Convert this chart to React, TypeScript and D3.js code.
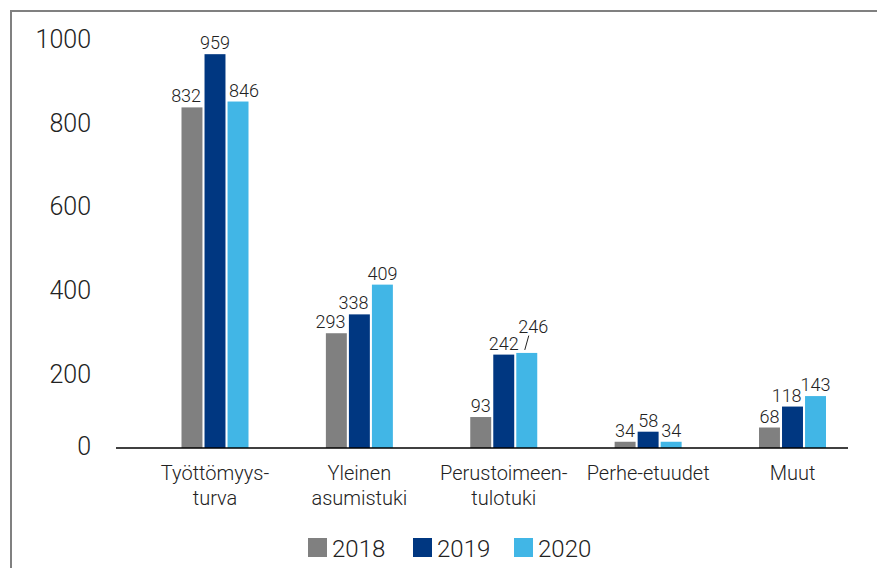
import React from "react";
import * as d3 from "d3";

const categories = ["Työttömyysturva", "Yleinen asumistuki", "Perustoimeentulotuki", "Perhe-etuudet", "Muut"];
const categoryLines = [["Työttömyys-", "turva"], ["Yleinen", "asumistuki"], ["Perustoimeen-", "tulotuki"], ["Perhe-etuudet"], ["Muut"]];
const seriesNames = ["2018", "2019", "2020"];
const colors = ["#808080", "#003781", "#41b6e6"];
const values2018 = [832, 293, 93, 34, 68];
const values2019 = [959, 338, 242, 58, 118];
const values2020 = [846, 409, 246, 34, 143];
const yTicks = [0, 200, 400, 600, 800, 1000];

const W = 877, H = 568;
const FONT = "Roboto, 'Open Sans', sans-serif";
const TEXT = "#222222";

export default function App() {
  const seriesValues = [values2018, values2019, values2020];
  const y = d3.scaleLinear().domain([0, 1000]).range([456, 37]);
  const axisY = 448;
  const x0 = d3.scalePoint<string>().domain(categories).range([215, 792.5]);
  const x1 = d3.scaleBand<string>().domain(seriesNames).range([-33.5, 33.5]).paddingInner(0.09);
  const bw = x1.bandwidth();

  const labelFs = 18;
  const labelH = 14;
  const charW = 0.55 * labelFs;

  const bars: React.ReactNode[] = [];
  const texts: React.ReactNode[] = [];
  categories.forEach((c, ci) => {
    const cx = x0(c)!;
    let prev: { lx: number; ly: number; w: number } | null = null;
    seriesNames.forEach((s, si) => {
      const v = seriesValues[si][ci];
      const bx = cx + x1(s)!;
      const top = y(v);
      bars.push(<rect key={`b${ci}-${si}`} x={bx} y={top} width={bw} height={axisY - top} fill={colors[si]} />);
      const str = String(v);
      const w = str.length * charW;
      let ly = top - 5;
      let lx = bx + bw / 2;
      const over = Math.max(0, (w - bw) / 2);
      if (over > 0) {
        const leftTop = si > 0 ? y(seriesValues[si - 1][ci]) : Infinity;
        const rightTop = si < seriesNames.length - 1 ? y(seriesValues[si + 1][ci]) : Infinity;
        if (rightTop < ly) lx -= over + 1.5;
        else if (leftTop < ly) lx += over + 1.5;
      }
      let leader = false;
      if (prev && Math.abs(ly - prev.ly) < labelH && lx - w / 2 < prev.lx + prev.w / 2 && Math.abs(ly - prev.ly) < 5) {
        ly = prev.ly - 17;
        lx += 6.5;
        leader = true;
      }
      texts.push(
        <text key={`t${ci}-${si}`} x={lx} y={ly} textAnchor="middle" fontSize={labelFs} fontWeight={300} fill={TEXT}>
          {str}
        </text>
      );
      if (leader) {
        const bc = bx + bw / 2;
        texts.push(
          <line key={`l${ci}-${si}`} x1={bc - 2} y1={top - 3} x2={bc + 2} y2={ly + 3} stroke={TEXT} strokeWidth={1} />
        );
      }
      prev = { lx, ly, w };
    });
  });

  const legendFs = 24;
  const legendX = [308, 413, 514];

  return (
    <svg width={W} height={H} style={{ position: "absolute", left: 0, top: 0 }} fontFamily={FONT}>
      <rect width={W} height={H} fill="#ffffff" />
      <path d={`M11,${H} V11 H${W}`} fill="none" stroke="#808080" strokeWidth={2} />
      {yTicks.map((t) => (
        <text key={t} x={91} y={t === 0 ? axisY - 2 : y(t) + 2} dy="0.35em" textAnchor="end" fontSize={25} fontWeight={300} fill={TEXT}>
          {t}
        </text>
      ))}
      {bars}
      <line x1={116} x2={848} y1={axisY} y2={axisY} stroke="#000" strokeWidth={1.5} />
      {texts}
      {categories.map((c, ci) => (
        <text key={c} x={x0(c)!} y={480} textAnchor="middle" fontSize={20} fontWeight={300} fill={TEXT}>
          {categoryLines[ci].map((ln, li) => (
            <tspan key={li} x={x0(c)!} dy={li === 0 ? 0 : 25}>{ln}</tspan>
          ))}
        </text>
      ))}
      {seriesNames.map((s, si) => (
        <g key={s} transform={`translate(${legendX[si]},538)`}>
          <rect width={19} height={19} fill={colors[si]} />
          <text x={24} y={19} fontSize={legendFs} fontWeight={300} fill={TEXT}>{s}</text>
        </g>
      ))}
    </svg>
  );
}
